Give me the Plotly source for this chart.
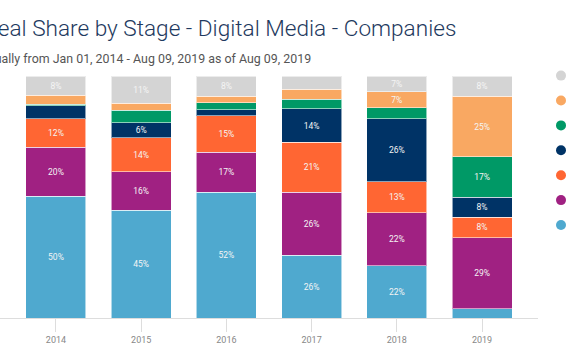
import plotly.graph_objects as go

years = ["2014", "2015", "2016", "2017", "2018", "2019"]

# stage names (their legend labels fall outside the visible picture)
stages = ["Angel", "Seed", "Series A", "Series B", "Series C", "Series D+", "Other"]
colors = ["#4fa9cf", "#a02182", "#ff6633", "#003366", "#009966", "#f9a862", "#d4d4d4"]

# share (%) per stage per year, bottom of stack first
angel    = [50.4, 44.6, 51.9, 26.0, 21.6, 3.9]
seed     = [20.2, 15.8, 16.6, 26.0, 21.9, 29.3]
series_a = [11.7, 14.1, 15.0, 20.6, 12.8, 8.4]
series_b = [5.5, 6.2, 2.5, 13.8, 26.1, 8.3]
series_c = [0.6, 5.1, 2.9, 4.0, 4.4, 16.7]
series_d = [3.6, 2.9, 2.8, 4.1, 6.6, 25.0]
other    = [8.0, 11.3, 8.3, 5.5, 6.6, 8.4]

series = [angel, seed, series_a, series_b, series_c, series_d, other]

title_text = "Deal Share by Stage - Digital Media - Companies"
subtitle_text = "Annually from Jan 01, 2014 - Aug 09, 2019 as of Aug 09, 2019"

W, H = 572, 364
ML, MR, MT, MB = 0, 0, 56, 46
PW = W - ML - MR
PH = H - MT - MB
BAR_RIGHT = 538   # right end of the bar plot area (px)
BAR_TOP = 76      # pixel row of 100%

def px_x(px):
    return (px - ML) / PW

def px_y(py):
    return (H - MB - py) / PH

fig = go.Figure()
for name, vals, col in zip(stages, series, colors):
    labels = [f"{round(v)}%" if v >= 6 else "" for v in vals]
    fig.add_trace(go.Bar(
        x=years, y=vals, name=name,
        marker=dict(color=col, line=dict(color="rgba(255,255,255,0.55)", width=1)),
        text=labels, textposition="inside", insidetextanchor="middle", textangle=0,
        textfont=dict(family="Roboto", size=8.5, color="#f4f4f4"),
        constraintext="none", showlegend=False, hoverinfo="x+y+name",
    ))

# legend dots, drawn on a small hidden overlay axis (one category column, stages as rows)
fig.add_trace(go.Scatter(
    x=["legend"] * len(stages), y=stages, mode="markers",
    marker=dict(color=colors, size=10, symbol="circle"),
    xaxis="x2", yaxis="y2", showlegend=False, cliponaxis=False,
    hovertext=stages, hoverinfo="text",
))

fig.add_annotation(text=title_text, xref="paper", yref="paper", x=px_x(458), y=px_y(28.5),
                   xanchor="right", yanchor="middle", showarrow=False,
                   font=dict(family="Roboto Light, Roboto", size=22.6, color="#1f3a60", weight=300))
fig.add_annotation(text=subtitle_text, xref="paper", yref="paper", x=px_x(313), y=px_y(58),
                   xanchor="right", yanchor="middle", showarrow=False,
                   font=dict(family="Roboto", size=12.4, color="#555555"))

# legend row scale: bottom row (index 0) at 225px, spacing 24.9px
row_px = 24.9
r0 = -(H - MB - 225) / row_px
r1 = r0 + PH / row_px

fig.update_layout(
    width=W, height=H, barmode="stack", bargap=0.296,
    margin=dict(l=ML, r=MR, t=MT, b=MB, autoexpand=False),
    plot_bgcolor="white", paper_bgcolor="white",
    showlegend=False,
    xaxis=dict(domain=[0, px_x(BAR_RIGHT)], range=[-0.657, 5.657], showline=True,
               linecolor="#dddddd", linewidth=1,
               ticks="outside", ticklen=13, tickcolor="#dddddd", tickwidth=1,
               tickfont=dict(family="Roboto", size=9, color="#888888"),
               showgrid=False, zeroline=False, fixedrange=True),
    yaxis=dict(domain=[0, px_y(BAR_TOP)], range=[0, 100], visible=False,
               showgrid=False, zeroline=False),
    xaxis2=dict(domain=[px_x(550), px_x(572)], range=[-0.5, 0.5], visible=False,
                anchor="y2", type="category"),
    yaxis2=dict(domain=[0, 1], range=[r0, r1], visible=False, anchor="x2",
                type="category", categoryorder="array", categoryarray=stages),
    uniformtext=dict(mode=False),
)

fig.write_html("out.html", config={"displayModeBar": False},
               post_script="document.body.style.margin='0';")
